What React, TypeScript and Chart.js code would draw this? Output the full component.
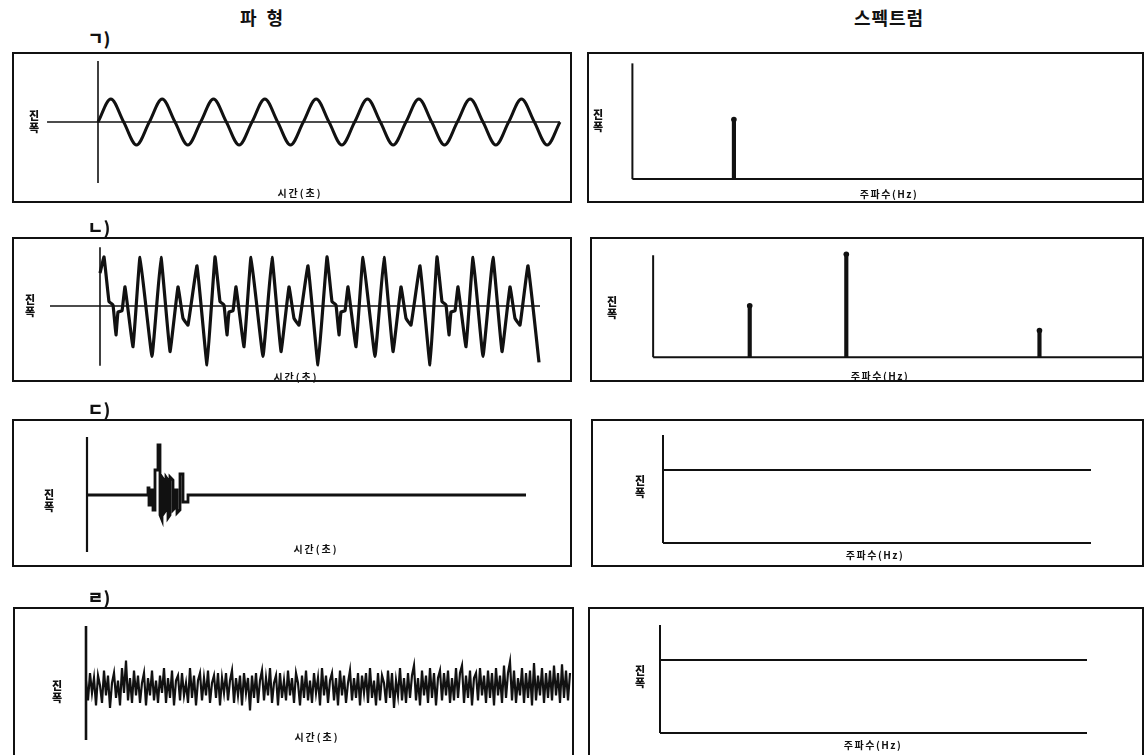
import React, { useEffect, useRef } from "react";
import { Chart, registerables } from "chart.js";
Chart.register(...registerables);

// ---------------- DATA ----------------
// ㄱ) pure tone: samples at quarter periods (time units), amplitude
const sineTime = [0,1,2,3,4,5,6,7,8,9,10,11,12,13,14,15,16,17,18,19,20,21,22,23,24,25,26,27,28,29,30,31,32,33,34,35,36];
const sineAmp = [0,1,0,-1,0,1,0,-1,0,1,0,-1,0,1,0,-1,0,1,0,-1,0,1,0,-1,0,1,0,-1,0,1,0,-1,0,1,0,-1,0];

// ㄴ) complex periodic wave
const complexTime = [0,4,9,13,16,18,22,25,33,40,52,61,70,78,83,88,97,107,
  115,120,124,127,129,133,136,144,151,163,172,181,189,194,199,208,218,
  227,232,236,239,241,245,248,256,263,275,284,293,301,306,311,320,330,
  337,342,346,349,351,355,358,366,373,383,393,402,410,415,420,428,439];
const complexAmp = [0.67,1.0,0.09,0.02,-0.59,-0.12,-0.10,0.39,-0.83,0.99,-1.03,0.99,-0.93,0.39,-0.25,-0.39,0.82,-1.2,
  1.0,0.09,0.02,-0.59,-0.12,-0.10,0.39,-0.83,0.99,-1.03,0.99,-0.93,0.39,-0.25,-0.39,0.82,-1.2,
  1.0,0.09,0.02,-0.59,-0.12,-0.10,0.39,-0.83,0.99,-1.03,0.99,-0.93,0.39,-0.25,-0.39,0.82,-1.2,
  1.0,0.09,0.02,-0.59,-0.12,-0.10,0.39,-0.83,0.99,-1.03,0.99,-0.93,0.39,-0.25,-0.39,0.82,-1.15];

// ㄷ) transient burst
const burstTime = [0,61,61,62,62,64,64,66,66,68,68,71,71,73,73,75,75,77,77,79,79,81,81,83,83,86,86,88,88,90,90,93,93,96,96,101,101,439];
const burstAmp = [0,0,0.14,0.14,-0.2,-0.2,0.1,0.1,-0.3,-0.3,0.5,0.5,1.0,1.0,-0.4,-0.5,0.36,0.3,-0.36,-0.3,0.36,0.3,-0.46,-0.4,0.36,0.3,-0.3,-0.26,0.1,0.1,-0.36,-0.3,0.42,0.42,-0.14,-0.14,0,0];

// ㄹ) noise samples (sample interval noiseStep time units)
const noiseStep = 2;
const noiseAmp = [
  0.3,-0.5,0.6,-0.2,0.4,-0.7,0.5,0.1,-0.6,0.7,-0.3,0.5,-0.8,0.2,0.6,-0.4,0.3,-0.7,0.8,-0.2,
  1.1,-0.5,0.4,-0.6,0.7,-0.3,0.5,-0.6,0.2,0.6,-0.7,0.4,-0.3,0.7,-0.5,0.3,-0.6,0.5,-0.2,0.8,
  -0.6,0.4,-0.4,0.7,-0.7,0.3,0.5,-0.5,0.6,-0.3,0.2,-0.6,0.8,-0.4,0.5,-0.7,0.3,0.6,-0.5,0.4,
  -0.3,0.7,-0.6,0.2,0.5,-0.4,0.6,-0.7,0.4,-0.2,0.6,-0.5,0.3,0.7,-0.6,0.4,-0.3,0.5,-0.7,0.6,
  -0.2,0.4,-0.9,0.5,-0.4,0.6,-0.6,0.3,0.7,-0.5,0.4,-0.3,0.8,-0.6,0.2,0.5,-0.7,0.6,-0.4,0.3,
  -0.5,0.7,-0.3,0.4,-0.6,0.6,0.2,-0.7,0.5,-0.4,0.7,-0.5,0.3,-0.6,0.6,-0.2,0.4,-0.7,0.8,-0.3,
  0.5,-0.6,0.3,0.6,-0.5,0.4,-0.7,0.7,-0.3,0.5,-0.6,0.2,0.7,-0.5,0.4,-0.4,0.6,-0.7,0.5,-0.2,
  0.6,-0.6,0.8,-0.4,0.3,-0.7,0.6,-0.5,0.5,0.2,-0.6,0.7,-0.4,0.6,-0.8,0.3,-0.3,0.8,-0.5,0.4,
  -0.6,0.6,-0.4,0.5,0.9,-0.5,0.4,-0.7,0.7,-0.3,0.5,-0.6,0.8,-0.4,0.6,-0.7,0.4,0.7,-0.5,0.6,
  -0.3,0.7,-0.6,0.4,-0.5,0.8,-0.4,0.6,0.9,-0.6,0.5,-0.4,0.7,-0.7,0.4,0.6,-0.5,0.8,-0.3,0.5,
  -0.6,0.7,-0.4,0.6,-0.7,0.8,-0.3,0.5,-0.6,0.9,-0.4,0.6,1.05,-0.5,0.7,-0.6,0.4,-0.3,0.8,-0.6,
  0.6,-0.4,0.7,-0.7,1.0,-0.5,0.5,-0.3,0.8,-0.6,0.6,-0.4,0.7,-0.5,0.9,-0.3,0.6,-0.6,0.95,-0.4,0.7,-0.5,0.6
];

// Spectra (Hz, amplitude)
const specFreqA = [10];
const specAmpA = [1];
const specFreqB = [10, 20, 40];
const specAmpB = [0.5, 1, 0.26];
const flatFreq = [0, 5, 10, 15, 20, 25, 30, 35, 40, 43];
const flatAmpC = [1, 1, 1, 1, 1, 1, 1, 1, 1, 1];
const flatAmpD = [1, 1, 1, 1, 1, 1, 1, 1, 1, 1];

// Text
const titleWave = "파 형";
const titleSpec = "스펙트럼";
const panelTags = ["ㄱ)", "ㄴ)", "ㄷ)", "ㄹ)"];
const ampLabel = ["진", "폭"];
const timeLabel = "시간(초)";
const freqLabel = "주파수(Hz)";

// ---------------- HELPERS ----------------
const INK = "#111";
const FONT = '"Noto Sans CJK KR", "Noto Sans", sans-serif';

type Rect = { left: number; top: number; width: number; height: number };
type Map2 = [number, number, number, number]; // v0, px0, v1, px1
type AxisLine = { x1: number; y1: number; x2: number; y2: number; w: number };

function fitX(m: Map2, r: Rect) {
  const [v0, p0, v1, p1] = m;
  const k = (p1 - p0) / (v1 - v0);
  const min = v0 - (p0 - r.left) / k;
  return { min, max: min + r.width / k };
}
function fitY(m: Map2, r: Rect) {
  const [v0, p0, v1, p1] = m;
  const k = (p0 - p1) / (v1 - v0);
  const max = v0 + (p0 - r.top) / k;
  return { min: max - r.height / k, max };
}
const zip = (xs: number[], ys: number[]) => xs.map((x, i) => ({ x, y: ys[i] }));

type PanelSpec = {
  rect: Rect;
  xMap: Map2;
  yMap: Map2;
  axes: AxisLine[];
  datasets: any[];
  bar?: boolean;
};

function ChartPanel({ spec }: { spec: PanelSpec }) {
  const ref = useRef<HTMLCanvasElement | null>(null);
  useEffect(() => {
    const canvas = ref.current;
    if (!canvas) return;
    const xs = fitX(spec.xMap, spec.rect);
    const ys = fitY(spec.yMap, spec.rect);
    const axesPlugin = {
      id: "panelAxes",
      beforeDatasetsDraw(chart: any) {
        const { ctx, scales } = chart;
        const sx = scales.x, sy = scales.y;
        ctx.save();
        ctx.strokeStyle = INK;
        ctx.lineCap = "butt";
        for (const l of spec.axes) {
          ctx.lineWidth = l.w;
          ctx.beginPath();
          ctx.moveTo(sx.getPixelForValue(l.x1), sy.getPixelForValue(l.y1));
          ctx.lineTo(sx.getPixelForValue(l.x2), sy.getPixelForValue(l.y2));
          ctx.stroke();
        }
        ctx.restore();
      },
    };
    const chart = new Chart(canvas, {
      type: spec.bar ? "bar" : "scatter",
      data: { datasets: spec.datasets },
      options: {
        animation: false,
        responsive: false,
        maintainAspectRatio: false,
        devicePixelRatio: 1,
        events: [],
        layout: { padding: 0 },
        plugins: { legend: { display: false }, tooltip: { enabled: false } },
        scales: {
          x: { type: "linear", display: false, min: xs.min, max: xs.max, offset: false },
          y: { type: "linear", display: false, min: ys.min, max: ys.max },
        },
      } as any,
      plugins: [axesPlugin],
    } as any);
    return () => chart.destroy();
  }, [spec]);
  const r = spec.rect;
  return (
    <>
      <canvas
        ref={ref}
        width={r.width}
        height={r.height}
        style={{ position: "absolute", left: r.left, top: r.top, width: r.width, height: r.height }}
      />
      <div
        style={{
          position: "absolute",
          left: r.left,
          top: r.top,
          width: r.width,
          height: r.height,
          border: `2px solid ${INK}`,
          boxSizing: "border-box",
          pointerEvents: "none",
        }}
      />
    </>
  );
}

function Txt({ x, y, size, spacing = 0, weight = 700, children }: any) {
  return (
    <div
      style={{
        position: "absolute",
        left: x,
        top: y,
        transform: "translate(-50%, -50%)",
        font: `${weight} ${size}px ${FONT}`,
        letterSpacing: spacing,
        whiteSpace: "nowrap",
        color: INK,
        lineHeight: 1.05,
        textAlign: "center",
      }}
    >
      {children}
    </div>
  );
}

function Amp({ x, y }: { x: number; y: number }) {
  return (
    <Txt x={x} y={y} size={11} weight={900}>
      {ampLabel[0]}
      <br />
      {ampLabel[1]}
    </Txt>
  );
}

const lineDs = (data: any[], w: number, extra: any = {}) => ({
  type: "scatter",
  data,
  showLine: true,
  borderColor: INK,
  backgroundColor: INK,
  borderWidth: w,
  pointRadius: 0,
  tension: 0,
  borderJoinStyle: "round",
  borderCapStyle: "butt",
  ...extra,
});

const spikeDs = (fr: number[], am: number[]) => [
  {
    type: "bar",
    data: zip(fr, am),
    backgroundColor: INK,
    borderWidth: 0,
    barThickness: 3.5,
  },
  {
    type: "scatter",
    data: zip(fr, am),
    pointRadius: 2.8,
    pointBackgroundColor: INK,
    pointBorderWidth: 0,
    showLine: false,
  },
];

// ---------------- PANELS ----------------
const noiseTime = noiseAmp.map((_, i) => i * noiseStep);

const panels: PanelSpec[] = [
  // ㄱ waveform
  {
    rect: { left: 12, top: 52, width: 560, height: 151 },
    xMap: [0, 98, 36, 560],
    yMap: [0, 122, 1, 99],
    axes: [
      { x1: 0, y1: 2.65, x2: 0, y2: -2.65, w: 1.6 },
      { x1: -3.97, y1: 0, x2: 36, y2: 0, w: 1.6 },
    ],
    datasets: [lineDs(zip(sineTime, sineAmp), 3, { cubicInterpolationMode: "monotone" })],
  },
  // ㄱ spectrum
  {
    rect: { left: 587, top: 52, width: 557, height: 151 },
    xMap: [0, 629, 10, 732],
    yMap: [0, 182, 1, 119],
    axes: [
      { x1: 0, y1: 0, x2: 0, y2: 1.94, w: 2 },
      { x1: 0, y1: 0, x2: 55, y2: 0, w: 2 },
    ],
    datasets: spikeDs(specFreqA, specAmpA),
    bar: true,
  },
  // ㄴ waveform
  {
    rect: { left: 12, top: 237, width: 560, height: 145 },
    xMap: [0, 100, 100, 200],
    yMap: [0, 306, 1, 257],
    axes: [
      { x1: 0, y1: 1.2, x2: 0, y2: -1.22, w: 1.6 },
      { x1: -50, y1: 0, x2: 440, y2: 0, w: 1.6 },
    ],
    datasets: [lineDs(zip(complexTime, complexAmp), 3.2, { tension: 0.08 })],
  },
  // ㄴ spectrum
  {
    rect: { left: 590, top: 237, width: 554, height: 145 },
    xMap: [0, 650, 10, 748],
    yMap: [0, 360, 1, 251],
    axes: [
      { x1: 0, y1: 0, x2: 0, y2: 0.99, w: 2 },
      { x1: 0, y1: 0, x2: 55, y2: 0, w: 2 },
    ],
    datasets: spikeDs(specFreqB, specAmpB),
    bar: true,
  },
  // ㄷ waveform
  {
    rect: { left: 12, top: 419, width: 560, height: 148 },
    xMap: [0, 87, 100, 187],
    yMap: [0, 495, 1, 445],
    axes: [{ x1: 0, y1: 1.16, x2: 0, y2: -1.14, w: 2.2 }],
    datasets: [lineDs(zip(burstTime, burstAmp), 2.8, { borderJoinStyle: "miter" })],
  },
  // ㄷ spectrum
  {
    rect: { left: 591, top: 419, width: 553, height: 148 },
    xMap: [0, 663, 43, 1091],
    yMap: [0, 543, 1, 470],
    axes: [
      { x1: 0, y1: 0, x2: 0, y2: 1.48, w: 2 },
      { x1: 0, y1: 0, x2: 43, y2: 0, w: 2 },
    ],
    datasets: [lineDs(zip(flatFreq, flatAmpC), 2.2)],
  },
  // ㄹ waveform
  {
    rect: { left: 13, top: 607, width: 561, height: 200 },
    xMap: [0, 86, 100, 186],
    yMap: [0, 688, 1, 663],
    axes: [{ x1: 0, y1: 2.48, x2: 0, y2: -2.08, w: 2.6 }],
    datasets: [lineDs(zip(noiseTime, noiseAmp), 2.2, { borderJoinStyle: "miter" })],
  },
  // ㄹ spectrum
  {
    rect: { left: 588, top: 607, width: 556, height: 200 },
    xMap: [0, 660, 43, 1087],
    yMap: [0, 733, 1, 660],
    axes: [
      { x1: 0, y1: 0, x2: 0, y2: 1.48, w: 2 },
      { x1: 0, y1: 0, x2: 43, y2: 0, w: 2 },
    ],
    datasets: [lineDs(zip(flatFreq, flatAmpD), 2.2)],
  },
];

// ---------------- APP ----------------
export default function App() {
  return (
    <div
      style={{
        position: "absolute",
        left: 0,
        top: 0,
        width: 1144,
        height: 755,
        overflow: "hidden",
        background: "#fff",
      }}
    >
      {panels.map((p, i) => (
        <ChartPanel key={i} spec={p} />
      ))}

      <Txt x={263} y={17} size={18} spacing={3}>{titleWave}</Txt>
      <Txt x={889} y={17} size={18} spacing={1}>{titleSpec}</Txt>

      <Txt x={99} y={38} size={17} weight={900}>{panelTags[0]}</Txt>
      <Txt x={99} y={227} size={17} weight={900}>{panelTags[1]}</Txt>
      <Txt x={99} y={409} size={17} weight={900}>{panelTags[2]}</Txt>
      <Txt x={99} y={597} size={17} weight={900}>{panelTags[3]}</Txt>

      <Amp x={34} y={122} />
      <Amp x={598} y={121} />
      <Amp x={30} y={306} />
      <Amp x={612} y={308} />
      <Amp x={49} y={501} />
      <Amp x={640} y={487} />
      <Amp x={57} y={692} />
      <Amp x={640} y={677} />

      <Txt x={300} y={193} size={10} spacing={2}>{timeLabel}</Txt>
      <Txt x={296} y={377} size={10} spacing={2}>{timeLabel}</Txt>
      <Txt x={316} y={549} size={10} spacing={2}>{timeLabel}</Txt>
      <Txt x={317} y={737} size={10} spacing={2}>{timeLabel}</Txt>

      <Txt x={889} y={194} size={10} spacing={1.5}>{freqLabel}</Txt>
      <Txt x={880} y={376} size={10} spacing={1.5}>{freqLabel}</Txt>
      <Txt x={875} y={555} size={10} spacing={1.5}>{freqLabel}</Txt>
      <Txt x={873} y={745} size={10} spacing={1.5}>{freqLabel}</Txt>
    </div>
  );
}
